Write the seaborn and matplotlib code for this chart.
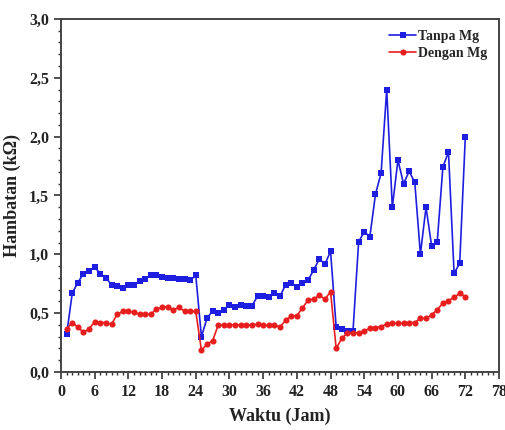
import matplotlib
matplotlib.use("Agg")
import matplotlib.pyplot as plt
from matplotlib.ticker import MultipleLocator, FuncFormatter
import seaborn as sns
import pandas as pd

jam = list(range(1, 73))
tanpa_mg = [0.32, 0.67, 0.76, 0.835, 0.86, 0.89, 0.835, 0.80, 0.74, 0.73,
            0.71, 0.74, 0.74, 0.77, 0.79, 0.82, 0.82, 0.81, 0.80, 0.80,
            0.79, 0.79, 0.78, 0.82, 0.30, 0.456, 0.52, 0.50, 0.53, 0.57,
            0.55, 0.57, 0.56, 0.56, 0.645, 0.645, 0.64, 0.67, 0.645, 0.74,
            0.755, 0.725, 0.753, 0.78, 0.867, 0.96, 0.917, 1.025, 0.38, 0.362,
            0.348, 0.351, 1.107, 1.19, 1.15, 1.51, 1.69, 2.40, 1.40, 1.80,
            1.60, 1.705, 1.61, 1.00, 1.40, 1.07, 1.107, 1.74, 1.87, 0.838,
            0.923, 2.00]
dengan_mg = [0.365, 0.42, 0.38, 0.337, 0.365, 0.427, 0.42, 0.42, 0.405, 0.49,
             0.515, 0.515, 0.507, 0.49, 0.49, 0.49, 0.535, 0.55, 0.555, 0.527,
             0.55, 0.515, 0.515, 0.515, 0.184, 0.235, 0.266, 0.40, 0.40, 0.40,
             0.40, 0.40, 0.40, 0.40, 0.405, 0.40, 0.395, 0.395, 0.382, 0.44,
             0.475, 0.478, 0.544, 0.61, 0.62, 0.65, 0.62, 0.68, 0.20, 0.286,
             0.33, 0.33, 0.334, 0.35, 0.37, 0.377, 0.385, 0.408, 0.413, 0.413,
             0.413, 0.42, 0.42, 0.456, 0.456, 0.484, 0.53, 0.583, 0.606, 0.634,
             0.668, 0.64]

sns.set_style("ticks")
plt.rcParams['font.family'] = ['Liberation Serif', 'DejaVu Serif']
plt.rcParams['font.weight'] = 'bold'

fig = plt.figure(figsize=(5.06, 4.30), dpi=100)
ax = fig.add_axes([0.1206, 0.135, 0.8656, 0.821])

df = pd.DataFrame({"Waktu": jam, "Tanpa Mg": tanpa_mg, "Dengan Mg": dengan_mg})
sns.lineplot(data=df, x="Waktu", y="Tanpa Mg", ax=ax, color="#1e1ee0", marker="s",
             markersize=4.2, markeredgewidth=0, linewidth=1.2, label="Tanpa Mg")
sns.lineplot(data=df, x="Waktu", y="Dengan Mg", ax=ax, color="#e81e1e", marker="o",
             markersize=4.4, markeredgewidth=0, linewidth=1.2, label="Dengan Mg")

ax.set_xlim(0, 78)
ax.set_ylim(0, 3.0)
ax.xaxis.set_major_locator(MultipleLocator(6))
ax.xaxis.set_minor_locator(MultipleLocator(1))
ax.yaxis.set_major_locator(MultipleLocator(0.5))
ax.yaxis.set_minor_locator(MultipleLocator(0.1))
ax.yaxis.set_major_formatter(FuncFormatter(lambda v, p: f"{v:.1f}".replace(".", ",")))
ax.xaxis.set_major_formatter(FuncFormatter(lambda v, p: f"{int(round(v))}"))

for s in ax.spines.values():
    s.set_visible(True)
    s.set_linewidth(1.4)
    s.set_color("#444444")

ax.tick_params(which="major", direction="out", length=5, width=1.2, labelsize=11.5,
               colors="#333333", labelcolor="#222222")
ax.tick_params(which="minor", direction="out", length=2.5, width=1.0, colors="#333333")
for lab in ax.get_xticklabels() + ax.get_yticklabels():
    lab.set_fontweight("bold")

ax.set_xlabel("Waktu (Jam)", fontsize=13, fontweight="bold", color="#222222", labelpad=6)
ax.set_ylabel("Hambatan (kΩ)", fontsize=13, fontweight="bold", color="#222222", labelpad=6)

leg = ax.legend(loc="upper right", frameon=False, fontsize=10, handlelength=1.9,
                borderaxespad=0.4, labelspacing=0.3, handletextpad=0.15,
                bbox_to_anchor=(0.998, 1.0))
for t in leg.get_texts():
    t.set_fontweight("bold")

fig.savefig("out.png", dpi=100)
